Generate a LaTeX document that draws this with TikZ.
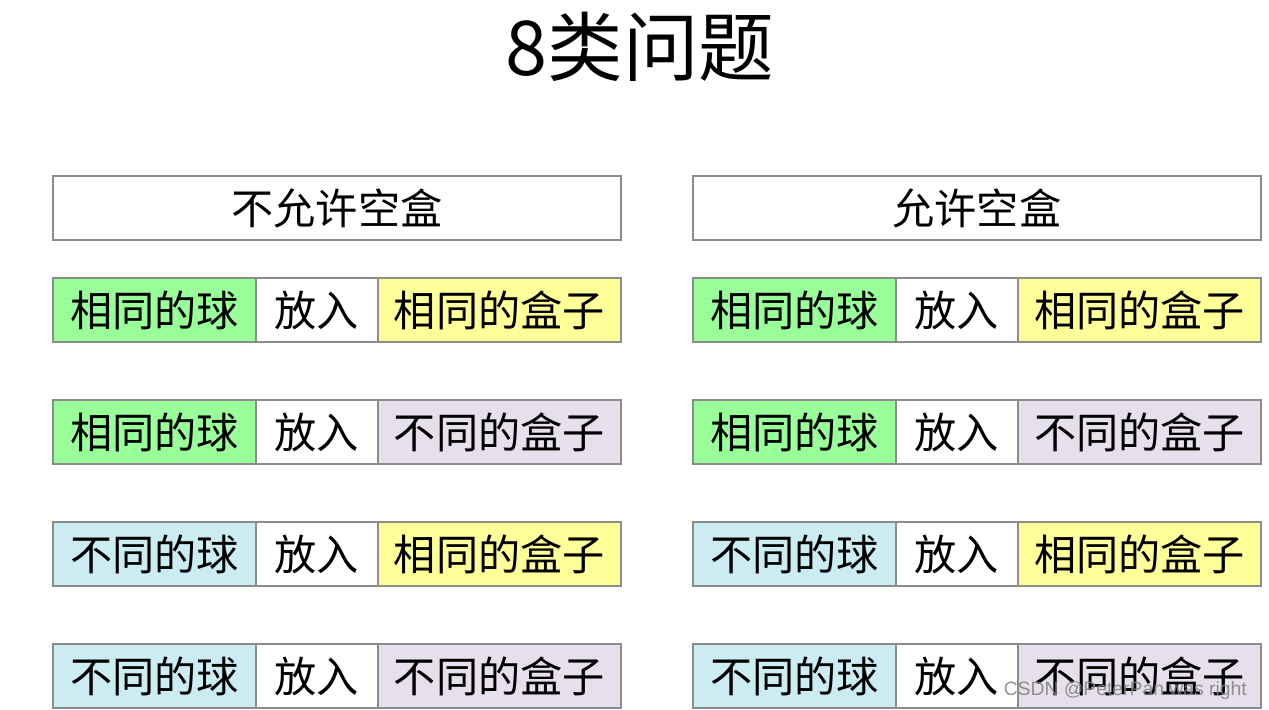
\documentclass[tikz,border=0pt]{standalone}
\usepackage{fontspec}
\setmainfont{Noto Sans CJK SC}
\newfontfamily\markfont{Liberation Sans}
\usetikzlibrary{positioning}
\definecolor{ballSame}{HTML}{99FF99}
\definecolor{ballDiff}{HTML}{CCECF4}
\definecolor{boxSame}{HTML}{FFFF99}
\definecolor{boxDiff}{HTML}{E6E0EC}
\definecolor{cellEdge}{HTML}{8C8C8C}

\begin{document}
\begin{tikzpicture}[x=0.02cm,y=-0.02cm,
  cell/.style={draw=cellEdge,line width=0.7pt,outer sep=0pt,inner sep=0pt,
               minimum height=1.28cm,font=\fontsize{24}{24}\selectfont},
  headcell/.style={cell,fill=white,minimum width=11.36cm},
  ballcell/.style={cell,minimum width=4.06cm},
  putcell/.style={cell,fill=white,minimum width=2.44cm},
  boxcell/.style={cell,minimum width=4.86cm}]
\useasboundingbox (0,0) rectangle (1269,710);

\node (title) at (640,47) {\fontsize{43}{43}\selectfont 8类问题};

% two columns: without / with empty boxes
\foreach \side/\x/\head in {L/53/不允许空盒,R/693/允许空盒}{
  \node[headcell,anchor=west] (head\side) at (\x,208) {\head};
  \foreach \row/\y/\ba/\bacol/\bx/\bxcol in {1/310/相同/ballSame/相同/boxSame,
      2/432/相同/ballSame/不同/boxDiff,3/554/不同/ballDiff/相同/boxSame,
      4/676/不同/ballDiff/不同/boxDiff}{
    \node[ballcell,fill=\bacol,anchor=west] (ball\side\row) at (\x,\y) {\ba 的球};
    \node[putcell,right=0pt of ball\side\row] (put\side\row) {放入};
    \node[boxcell,fill=\bxcol,right=0pt of put\side\row] (box\side\row) {\bx 的盒子};
  }
}

\node[anchor=east,text=gray,opacity=0.85] (mark) at (1253,690)
  {\markfont\fontsize{11}{11}\selectfont CSDN @PeterPan was right};
\end{tikzpicture}
\end{document}
